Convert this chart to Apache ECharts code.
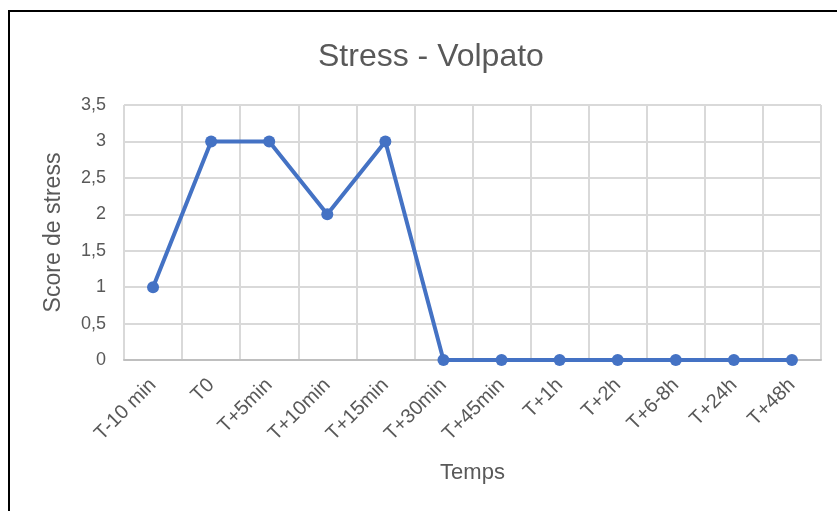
<!DOCTYPE html>
<html>
<head>
<meta charset="utf-8">
<script src="https://cdn.jsdelivr.net/npm/echarts@6/dist/echarts.min.js"></script>
<style>
  html, body { margin: 0; padding: 0; background: #fff; }
  #frame { position: absolute; left: 8px; top: 10px; width: 900px; height: 600px;
           border-left: 2px solid #000; border-top: 2px solid #000; }
  #main { position: absolute; left: 0; top: 0; width: 837px; height: 511px; }
</style>
</head>
<body>
<div id="frame"></div>
<div id="main"></div>
<script>
// categories (temps) and stress scores
const temps = ['T-10 min', 'T0', 'T+5min', 'T+10min', 'T+15min', 'T+30min',
    'T+45min', 'T+1h', 'T+2h', 'T+6-8h', 'T+24h', 'T+48h'];
const scores = [1, 3, 3, 2, 3, 0, 0, 0, 0, 0, 0, 0];
const yTicks = [0, 0.5, 1, 1.5, 2, 2.5, 3, 3.5];

const chart = echarts.init(document.getElementById('main'));
const font = 'Liberation Sans, Arial, sans-serif';

chart.setOption({
    animation: false,
    title: {
        text: 'Stress - Volpato',
        left: 313,
        top: 36,
        textStyle: {color: '#595959', fontSize: 32, fontWeight: 'normal', fontFamily: font}
    },
    grid: {left: 124, right: 16, top: 105, bottom: 151},
    xAxis: {
        type: 'category',
        data: temps,
        boundaryGap: true,
        name: 'Temps',
        nameLocation: 'middle',
        nameGap: 102,
        nameTextStyle: {color: '#595959', fontSize: 22, fontFamily: font},
        axisLine: {lineStyle: {color: '#bfbfbf', width: 2}},
        axisTick: {show: false},
        axisLabel: {rotate: 45, margin: 22, color: '#595959', fontSize: 20, fontFamily: font},
        splitLine: {show: true, lineStyle: {color: '#d9d9d9', width: 2}}
    },
    yAxis: {
        type: 'value',
        min: yTicks[0],
        max: yTicks[yTicks.length - 1],
        interval: 0.5,
        name: 'Score de stress',
        nameLocation: 'middle',
        nameGap: 59,
        nameTextStyle: {color: '#595959', fontSize: 23, fontFamily: font},
        axisLine: {show: false},
        axisTick: {show: false},
        axisLabel: {
            margin: 18,
            color: '#595959',
            fontSize: 18,
            fontFamily: font,
            formatter: v => String(v).replace('.', ',')
        },
        splitLine: {lineStyle: {color: '#d9d9d9', width: 2}}
    },
    series: [{
        type: 'line',
        data: scores,
        symbol: 'circle',
        symbolSize: 12,
        itemStyle: {color: '#4472C4'},
        lineStyle: {color: '#4472C4', width: 4}
    }]
});
</script>
</body>
</html>
